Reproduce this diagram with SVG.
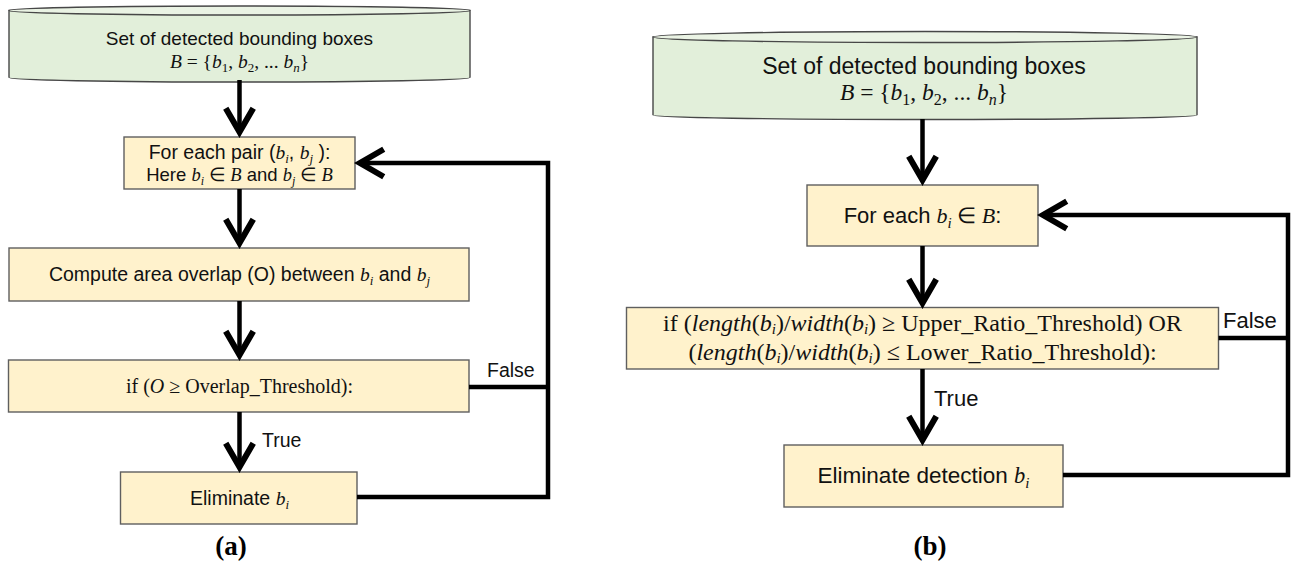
<svg xmlns="http://www.w3.org/2000/svg" width="1297" height="561" viewBox="0 0 1297 561">
<defs>
<style>
.box{fill:#FFF2CC;stroke:#5f5f5f;stroke-width:1.4}
.cyl{fill:#E2EFDA;stroke:#474747;stroke-width:1.4}
.cyltop{fill:#EAF3E4;stroke:#474747;stroke-width:1.4}
.t{font-family:"Liberation Sans",Arial,sans-serif;fill:#111}
.s{font-family:"Liberation Serif","Times New Roman",serif;fill:#111}
.i{font-family:"Liberation Serif","Times New Roman",serif;font-style:italic}
.u{font-family:"Liberation Serif","Times New Roman",serif;font-style:normal}
.flow{fill:none;stroke:#000;stroke-width:4.5;stroke-linejoin:miter}
.cap{font-family:"Liberation Serif","Times New Roman",serif;font-weight:bold;font-size:27px;fill:#000}
</style>
<marker id="ah" markerUnits="userSpaceOnUse" markerWidth="40" markerHeight="40" viewBox="-25 -16 32 32" refX="0" refY="0" orient="auto" overflow="visible">
<path d="M-19,-11 L0,0 L-19,11" fill="none" stroke="#000" stroke-width="4.8" stroke-linejoin="miter"/>
</marker>
</defs>
<rect width="1297" height="561" fill="#fff"/>

<!-- Panel (a) -->
<g id="a-input">
<path class="cyl" d="M9,10.5 V77.5 A230.5,4.5 0 0 0 470,77.5 V10.5 Z"/>
<ellipse class="cyltop" cx="239.5" cy="10.5" rx="230.5" ry="4.5"/>
<text class="t" x="239.5" y="45" font-size="19" text-anchor="middle">Set of detected bounding boxes</text>
<text class="s" x="239.5" y="68" font-size="19.5" text-anchor="middle"><tspan class="i">B</tspan> = {<tspan class="i">b</tspan><tspan dy="4" font-size="13">1</tspan><tspan dy="-4">, </tspan><tspan class="i">b</tspan><tspan dy="4" font-size="13">2</tspan><tspan dy="-4">, ... </tspan><tspan class="i">b</tspan><tspan class="i" dy="4" font-size="13">n</tspan><tspan dy="-4">}</tspan></text>
</g>
<g id="a-pair">
<rect class="box" x="124" y="137" width="231" height="52"/>
<text class="t" x="239.5" y="159" font-size="19.5" text-anchor="middle">For each pair (<tspan class="i">b</tspan><tspan class="i" dy="4" font-size="13">i</tspan><tspan dy="-4">, </tspan><tspan class="i">b</tspan><tspan class="i" dy="4" font-size="13">j</tspan><tspan dy="-4"> ):</tspan></text>
<text class="t" x="239.5" y="181" font-size="18.5" text-anchor="middle">Here <tspan class="i">b</tspan><tspan class="i" dy="4" font-size="12">i</tspan><tspan dy="-4" class="u"> ∈ </tspan><tspan class="i">B</tspan> and <tspan class="i">b</tspan><tspan class="i" dy="4" font-size="12">j</tspan><tspan dy="-4" class="u"> ∈ </tspan><tspan class="i">B</tspan></text>
</g>
<g id="a-compute">
<rect class="box" x="9" y="248" width="460" height="53"/>
<text class="t" x="239.5" y="281" font-size="19.5" text-anchor="middle">Compute area overlap (O) between <tspan class="i">b</tspan><tspan class="i" dy="4" font-size="13">i</tspan><tspan dy="-4"> and </tspan><tspan class="i">b</tspan><tspan class="i" dy="4" font-size="13">j</tspan></text>
</g>
<g id="a-if">
<rect class="box" x="8.5" y="360" width="460.5" height="52"/>
<text class="s" x="239.5" y="393" font-size="20" text-anchor="middle">if (<tspan class="i">O</tspan> ≥ Overlap_Threshold):</text>
</g>
<g id="a-eliminate">
<rect class="box" x="120.5" y="472" width="236.5" height="52"/>
<text class="t" x="239.5" y="505" font-size="19.5" text-anchor="middle">Eliminate <tspan class="i">b</tspan><tspan class="i" dy="4" font-size="13">i</tspan></text>
</g>
<g id="a-connectors">
<path class="flow" d="M239.5,80 V132" marker-end="url(#ah)"/>
<path class="flow" d="M239.5,189 V243" marker-end="url(#ah)"/>
<path class="flow" d="M239.5,301 V355" marker-end="url(#ah)"/>
<path class="flow" d="M239.5,412 V467" marker-end="url(#ah)"/>
<path class="flow" d="M357,497 H548 V163 H360" marker-end="url(#ah)"/>
<path class="flow" d="M469,387 H548"/>
<text class="t" x="487" y="377" font-size="19.5">False</text>
<text class="t" x="262" y="447" font-size="19.5">True</text>
</g>
<text class="cap" x="231" y="555" text-anchor="middle">(a)</text>

<!-- Panel (b) -->
<g id="b-input">
<path class="cyl" d="M653,37 V115 A272,4.5 0 0 0 1197,115 V37 Z"/>
<ellipse class="cyltop" cx="925" cy="37" rx="272" ry="5.5"/>
<text class="t" x="924" y="74" font-size="23" text-anchor="middle">Set of detected bounding boxes</text>
<text class="s" x="924" y="100" font-size="23.5" text-anchor="middle"><tspan class="i">B</tspan> = {<tspan class="i">b</tspan><tspan dy="5" font-size="16">1</tspan><tspan dy="-5">, </tspan><tspan class="i">b</tspan><tspan dy="5" font-size="16">2</tspan><tspan dy="-5">, ... </tspan><tspan class="i">b</tspan><tspan class="i" dy="5" font-size="16">n</tspan><tspan dy="-5">}</tspan></text>
</g>
<g id="b-each">
<rect class="box" x="807" y="185" width="231" height="61"/>
<text class="t" x="922.5" y="223" font-size="22" text-anchor="middle">For each <tspan class="i">b</tspan><tspan class="i" dy="5" font-size="15">i</tspan><tspan dy="-5" class="u"> ∈ </tspan><tspan class="i">B</tspan>:</text>
</g>
<g id="b-if">
<rect class="box" x="626.5" y="307.5" width="592" height="61.5"/>
<text class="s" x="922.5" y="331" font-size="24" text-anchor="middle">if (<tspan class="i">length</tspan>(<tspan class="i">b</tspan><tspan class="i" dy="3" font-size="15">i</tspan><tspan dy="-3">)/</tspan><tspan class="i">width</tspan>(<tspan class="i">b</tspan><tspan class="i" dy="3" font-size="15">i</tspan><tspan dy="-3">) ≥ Upper_Ratio_Threshold) OR</tspan></text>
<text class="s" x="922.5" y="360" font-size="24" text-anchor="middle">(<tspan class="i">length</tspan>(<tspan class="i">b</tspan><tspan class="i" dy="3" font-size="15">i</tspan><tspan dy="-3">)/</tspan><tspan class="i">width</tspan>(<tspan class="i">b</tspan><tspan class="i" dy="3" font-size="15">i</tspan><tspan dy="-3">) ≤ Lower_Ratio_Threshold):</tspan></text>
</g>
<g id="b-eliminate">
<rect class="box" x="784" y="445" width="279" height="62"/>
<text class="t" x="923.5" y="483" font-size="22.5" text-anchor="middle">Eliminate detection <tspan class="i">b</tspan><tspan class="i" dy="5" font-size="15">i</tspan></text>
</g>
<g id="b-connectors">
<path class="flow" d="M922.5,119 V180" marker-end="url(#ah)"/>
<path class="flow" d="M922.5,246 V303" marker-end="url(#ah)"/>
<path class="flow" d="M922.5,369 V440" marker-end="url(#ah)"/>
<path class="flow" d="M1063,475 H1288 V215 H1043" marker-end="url(#ah)"/>
<path class="flow" d="M1218.5,338 H1288"/>
<text class="t" x="1223" y="328" font-size="22">False</text>
<text class="t" x="934" y="406" font-size="22">True</text>
</g>
<text class="cap" x="930" y="555" text-anchor="middle">(b)</text>
</svg>
